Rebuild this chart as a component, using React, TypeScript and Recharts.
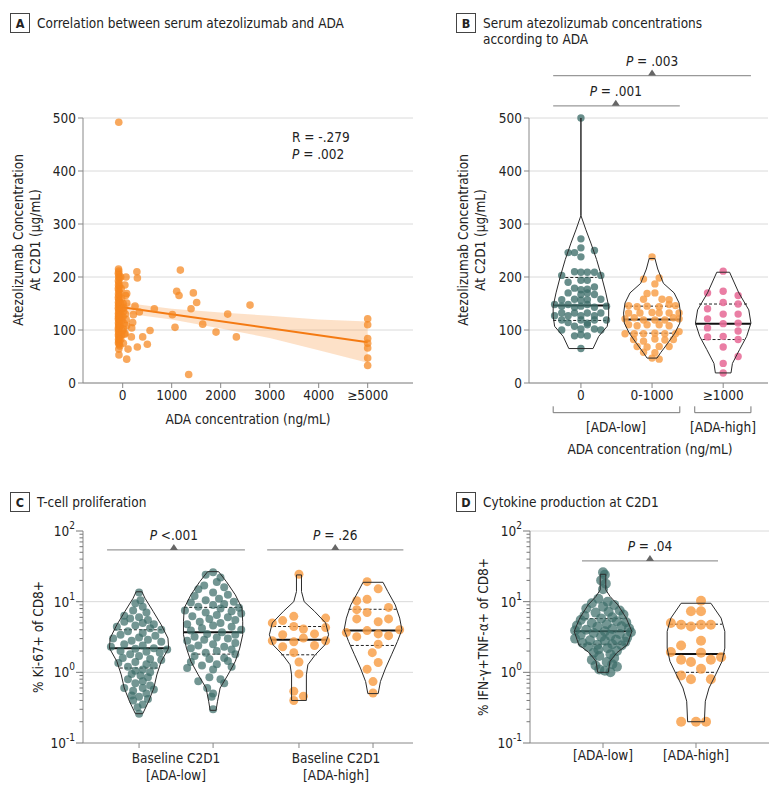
import React from 'react';
import {
  ComposedChart,
  Scatter,
  Line,
  Area,
  XAxis,
  YAxis,
  CartesianGrid,
  ReferenceLine,
  ReferenceDot,
} from 'recharts';

type Pt = [number, number];

const FONT = "'Liberation Sans Narrow', 'DejaVu Sans Condensed', sans-serif";
const TEAL = '#3d6e6a';
const ORANGE = '#f89d45';
const PINK = '#e8709a';
const A_ORANGE = '#f5871f';
const AXIS = '#888';
const GRID = '#dadada';
const FS = 13.5;

// ---------- Panel A: scatter + fit ----------
// [ADA ng/mL, atezolizumab ug/mL]
const aZeroCluster: Pt[] = [
  [-80, 492], [-85, 215], [-80, 211], [-88, 207], [-75, 204], [-82, 200], [-70, 197], [-86, 193],
  [-78, 189], [-84, 185], [-72, 182], [-88, 178], [-80, 175], [-68, 171], [-85, 168], [-76, 165],
  [-88, 161], [-80, 158], [-70, 155], [-86, 152], [-78, 149], [-84, 146], [-66, 144], [-88, 141],
  [-74, 139], [-82, 136], [-60, 134], [-86, 131], [-76, 129], [-84, 126], [-70, 124], [-88, 121],
  [-80, 119], [-64, 116], [-86, 113], [-76, 111], [-82, 108], [-70, 105], [-88, 103], [-78, 100],
  [-84, 97], [-72, 94], [-86, 91], [-80, 88], [-68, 85], [-84, 82], [-78, 79], [-86, 76],
  [-74, 73], [-80, 64], [-76, 53], [-40, 200], [-30, 178], [-20, 160], [-45, 150], [-10, 140],
  [-35, 128], [-15, 118], [-50, 108], [-5, 98], [-25, 90], [-40, 82], [10, 150], [20, 135],
  [5, 125], [30, 112], [15, 102], [40, 92], [25, 142], [55, 130], [60, 165], [45, 185],
  [70, 120], [80, 108], [-60, 70],
];
const aPositive: Pt[] = [
  [290, 210], [300, 198], [1177, 213], [1102, 173], [1150, 165], [1442, 170], [1510, 152],
  [1395, 140], [646, 140], [1014, 129], [1068, 105], [1633, 111], [2143, 130], [1905, 96],
  [2320, 87], [2599, 147], [1347, 16], [558, 99], [408, 87], [503, 73], [299, 68], [177, 87],
  [109, 64], [82, 45], [68, 200], [82, 169], [82, 151], [218, 129], [204, 114], [184, 104],
  [252, 145], [340, 134], [48, 94], [14, 75],
];
const aHighTiter = [121, 110, 84, 75, 66, 47, 33]; // plotted at >=5000
const aFitAda = [-80, 5000];
const aFitConc = [144, 77];
const aBandAda = [-80, 1000, 2000, 3000, 4000, 5000];
const aBandLow = [133, 120, 103, 85, 62, 38];
const aBandHigh = [153, 140, 133, 127, 120, 116];
const aXTicks = [0, 1000, 2000, 3000, 4000, 5000];
const concTicks = [0, 100, 200, 300, 400, 500];

// ---------- Panel B: violins by ADA ----------
const bCats = ['0', '0-1000', '≥1000'];
// [offset from category, value]
const bDots0: Pt[] = [
  [0, 500], [0, 272], [-0.18, 246], [-0.09, 246], [0, 255], [0.19, 250], [0, 238],
  [-0.27, 203], [-0.09, 210], [0, 209], [0.09, 209], [0.19, 209], [0.28, 203],
  [0, 194], [-0.18, 190], [0.09, 194], [-0.09, 179], [0, 176], [0.09, 177], [0.19, 181],
  [-0.18, 170], [0, 167], [0.09, 170], [0.19, 167], [-0.27, 157], [-0.09, 158], [0, 156],
  [0.09, 157], [0.28, 158], [-0.37, 148], [-0.27, 145], [-0.18, 148], [-0.09, 143], [0, 145],
  [0.09, 148], [0.19, 143], [0.36, 145], [-0.37, 127], [-0.27, 132], [-0.18, 127], [-0.09, 132],
  [0, 127], [0.09, 132], [0.19, 127], [0.28, 132], [-0.27, 119], [-0.18, 114], [0, 119],
  [0.09, 113], [0.19, 119], [0.36, 119], [-0.27, 100], [-0.09, 107], [0, 102], [0.09, 110],
  [0.19, 102], [0.28, 100], [-0.09, 89], [0, 91], [0.09, 89], [0, 65],
];
const bDots1: Pt[] = [
  [0, 238], [-0.12, 196], [0.1, 198], [0.04, 187], [-0.07, 169], [0.04, 170],
  [-0.12, 158], [0.14, 158], [0.24, 157], [-0.33, 146], [-0.21, 144], [-0.07, 145],
  [0.1, 144], [0.24, 148], [0.33, 146], [-0.33, 132], [-0.17, 132], [0, 133], [0.1, 132],
  [0.24, 132], [0.38, 132], [-0.38, 121], [-0.25, 123], [-0.12, 119], [0.04, 119], [0.18, 119],
  [0.3, 123], [0.38, 121], [-0.33, 110], [-0.21, 108], [-0.07, 110], [0.1, 110], [0.24, 108],
  [-0.38, 93], [-0.25, 93], [-0.12, 93], [0.04, 94], [0.18, 93], [0.33, 93], [0.38, 97],
  [-0.26, 82], [-0.12, 79], [0.04, 83], [0.18, 81], [0.3, 82], [-0.21, 69], [-0.07, 68],
  [0.1, 69], [0.24, 69], [-0.12, 58], [0.04, 57], [0, 47], [0.1, 45],
];
const bDots2: Pt[] = [
  [0, 211], [-0.22, 170], [0, 173], [0.21, 165], [-0.22, 140], [0, 152], [0.21, 149],
  [-0.22, 121], [0, 130], [0.21, 130], [-0.22, 104], [0, 112], [0.21, 113], [-0.22, 87],
  [0, 88], [0.21, 98], [0.21, 82], [0, 68], [0.21, 50], [0, 37], [0, 19],
];
// violin outline: [value, half width]
const bShape0: Pt[] = [
  [65, 0.17], [88, 0.25], [107, 0.37], [126, 0.39], [145, 0.39], [170, 0.35], [201, 0.29],
  [233, 0.22], [264, 0.14], [289, 0.07], [316, 0], [500, 0],
];
const bShape1: Pt[] = [
  [47, 0.07], [57, 0.12], [75, 0.22], [94, 0.32], [113, 0.39], [132, 0.4], [151, 0.38],
  [170, 0.31], [188, 0.16], [215, 0.08], [235, 0.04],
];
const bShape2: Pt[] = [
  [19, 0.11], [37, 0.13], [63, 0.23], [88, 0.33], [113, 0.39], [138, 0.36], [170, 0.22],
  [209, 0.09],
];
// [median, upper quartile, lower quartile] as [value, half width]
const bStats0: Pt[] = [[146, 0.38], [199, 0.22], [118, 0.39]];
const bStats1: Pt[] = [[120, 0.4], [145, 0.38], [94, 0.32]];
const bStats2: Pt[] = [[112, 0.39], [149, 0.34], [82, 0.29]];

// ---------- Panel C: Ki-67 ----------
const cCenters = [1, 2, 3.16, 4.16];
const cDots0: Pt[] = [
  [0, 13.5], [0.02, 10.5], [-0.05, 9.5], [0.05, 8.5], [-0.08, 7.5], [0.1, 7], [-0.2, 6.3],
  [0, 6], [-0.12, 5.8], [0.12, 5.5], [-0.2, 5.2], [0.05, 5], [0.2, 4.8], [-0.05, 4.6],
  [-0.3, 4.4], [0.15, 4.2], [0.3, 4.0], [-0.15, 3.8], [0.05, 3.6], [-0.25, 3.4], [0.22, 3.3],
  [0, 3.1], [-0.35, 3.0], [0.12, 2.9], [-0.1, 2.8], [0.3, 2.7], [-0.2, 2.5], [0.05, 2.4],
  [-0.38, 2.3], [0.2, 2.2], [-0.05, 2.15], [0.38, 2.1], [-0.25, 2.0], [0.1, 1.95], [0.28, 1.9],
  [-0.12, 1.8], [0, 1.7], [-0.22, 1.6], [0.15, 1.55], [0.3, 1.5], [-0.05, 1.4], [-0.28, 1.35],
  [0.1, 1.3], [0.2, 1.25], [-0.15, 1.2], [0.05, 1.1], [-0.05, 1.05], [0.15, 1.0], [-0.1, 0.95],
  [0.02, 0.9], [0.12, 0.85], [-0.15, 0.8], [0.05, 0.75], [-0.05, 0.7], [0.15, 0.65],
  [-0.2, 0.6], [0.05, 0.6], [0.2, 0.57], [-0.08, 0.55], [0.1, 0.5], [-0.1, 0.47], [0, 0.45],
  [0.12, 0.42], [-0.08, 0.4], [0.05, 0.35], [-0.02, 0.32], [0, 0.26],
];
const cDots1: Pt[] = [
  [0, 26], [-0.1, 24], [0.1, 22], [0.05, 19], [-0.12, 17], [0.15, 16], [-0.2, 15], [0, 13.5],
  [0.2, 12.5], [-0.25, 12], [0.08, 11], [-0.1, 10.5], [0.28, 10], [-0.3, 9.7], [0.15, 9.3],
  [0, 9], [-0.2, 8.5], [0.35, 8.2], [0.1, 8], [-0.38, 7.5], [0.25, 7.3], [-0.1, 7], [0.38, 6.8],
  [0.05, 6.5], [-0.28, 6.2], [0.2, 6], [-0.05, 5.7], [0.3, 5.5], [-0.18, 5.2], [0.1, 5],
  [-0.35, 4.8], [0, 4.6], [0.25, 4.4], [-0.15, 4.2], [0.38, 4], [-0.3, 3.9], [0.12, 3.7],
  [-0.08, 3.5], [0.3, 3.4], [-0.25, 3.2], [0.05, 3.1], [0.2, 3.0], [-0.12, 2.9], [-0.35, 2.8],
  [0.3, 2.6], [0, 2.5], [-0.2, 2.4], [0.15, 2.3], [-0.3, 2.2], [0.25, 2.1], [0.05, 2.0],
  [-0.1, 1.9], [0.3, 1.8], [-0.25, 1.7], [0.15, 1.6], [-0.05, 1.55], [0.2, 1.45], [-0.3, 1.4],
  [0.05, 1.3], [-0.15, 1.25], [0.25, 1.2], [-0.35, 1.15], [0, 1.1], [-0.05, 0.85], [0.1, 0.8],
  [-0.2, 0.75], [0.15, 0.7], [-0.08, 0.6], [0, 0.5], [-0.02, 0.45], [0, 0.3],
];
const cDots2: Pt[] = [
  [0, 24.4], [-0.36, 5.0], [-0.22, 5.4], [-0.07, 6.2], [0.36, 5.85], [-0.07, 4.45], [0.06, 4.1],
  [0.36, 4.3], [-0.36, 2.8], [-0.22, 3.4], [-0.07, 2.7], [0.06, 3.05], [0.21, 3.5], [0.36, 2.8],
  [-0.22, 2.3], [0.21, 2.4], [-0.07, 1.9], [0, 1.4], [0, 0.95], [-0.07, 0.54], [-0.07, 0.4],
  [0.06, 0.46],
];
const cDots3: Pt[] = [
  [-0.08, 19.2], [0.07, 15.2], [-0.22, 10.3], [-0.08, 10.8], [-0.22, 7.7], [-0.08, 7.0],
  [0.21, 8.3], [-0.22, 5.7], [0.07, 5.2], [0.21, 5.7], [-0.36, 3.65], [-0.22, 3.2], [-0.08, 3.9],
  [0.07, 3.5], [0.21, 3.3], [0.36, 4.0], [0.07, 2.5], [-0.01, 1.9], [0.07, 1.38], [-0.08, 1.11],
  [0, 0.74], [0, 0.51],
];
const cShape0: Pt[] = [
  [0.26, 0.05], [0.39, 0.13], [0.6, 0.2], [0.92, 0.24], [1.43, 0.3], [2.2, 0.4], [3.05, 0.39],
  [4.7, 0.3], [7.3, 0.19], [11.2, 0.08], [13.8, 0.04],
];
const cShape1: Pt[] = [
  [0.29, 0.04], [0.39, 0.06], [0.6, 0.095], [0.92, 0.2], [1.43, 0.3], [2.2, 0.36], [3.4, 0.4],
  [5.2, 0.4], [8.1, 0.39], [12.5, 0.3], [19.2, 0.18], [26.6, 0.074],
];
const cShape2: Pt[] = [
  [0.4, 0.1], [0.92, 0.1], [1.28, 0.12], [1.77, 0.22], [2.45, 0.35], [3.4, 0.4], [5.0, 0.36],
  [7.3, 0.21], [10, 0.07], [13.9, 0.034], [23.9, 0.034],
];
const cShape3: Pt[] = [
  [0.5, 0.07], [0.74, 0.1], [1.15, 0.17], [1.77, 0.25], [2.74, 0.33], [4.0, 0.39], [5.85, 0.36],
  [9.0, 0.3], [13.9, 0.2], [18.8, 0.135],
];
const cStats0: Pt[] = [[2.2, 0.4], [4.0, 0.34], [1.15, 0.26]];
const cStats1: Pt[] = [[3.7, 0.4], [8.3, 0.39], [1.81, 0.28]];
const cStats2: Pt[] = [[2.9, 0.38], [4.45, 0.35], [1.77, 0.24]];
const cStats3: Pt[] = [[3.9, 0.39], [7.8, 0.33], [2.4, 0.3]];

// ---------- Panel D: cytokines ----------
const dCats = ['[ADA-low]', '[ADA-high]'];
const dDots0: Pt[] = [
  [0, 26], [0.02, 24], [-0.02, 20], [0.03, 18], [0, 15], [-0.05, 11], [0.05, 10], [-0.12, 9.5],
  [0.12, 9], [0, 8.5], [-0.18, 8], [0.18, 7.5], [0.06, 7.2], [-0.08, 7], [0.22, 6.6],
  [-0.2, 6.3], [0.1, 6], [-0.02, 5.8], [-0.24, 5.5], [0.15, 5.3], [0.25, 5.1], [-0.12, 5],
  [0.04, 4.8], [-0.28, 4.6], [0.2, 4.5], [-0.06, 4.4], [0.28, 4.2], [0.1, 4.1], [-0.18, 4.0],
  [-0.3, 3.9], [0.02, 3.8], [0.3, 3.7], [-0.1, 3.6], [0.18, 3.5], [-0.24, 3.4], [0.08, 3.3],
  [-0.02, 3.2], [0.26, 3.1], [-0.3, 3.0], [0.14, 2.9], [-0.14, 2.85], [0.02, 2.8], [0.24, 2.7],
  [-0.22, 2.6], [0.1, 2.5], [-0.06, 2.45], [0.2, 2.4], [-0.16, 2.3], [0.05, 2.2], [-0.05, 2.1],
  [0.15, 2.0], [-0.1, 1.9], [0.08, 1.8], [-0.04, 1.7], [0.12, 1.6], [-0.12, 1.5], [0.04, 1.4],
  [0.1, 1.3], [-0.08, 1.25], [0.15, 1.2], [-0.04, 1.1], [0.02, 1.05], [0.08, 1.0],
];
const dDots1: Pt[] = [
  [0.054, 10.3], [-0.054, 7.3], [0.054, 7.3], [-0.27, 5.0], [-0.16, 4.7], [-0.054, 4.45],
  [0.054, 4.7], [0.16, 4.7], [0.054, 2.8], [-0.16, 2.4], [-0.27, 1.94], [-0.16, 1.51],
  [-0.054, 1.4], [0.054, 1.9], [0.16, 1.51], [0.27, 1.63], [0.054, 1.12], [-0.054, 0.8],
  [0.16, 0.8], [-0.16, 0.9], [-0.16, 0.2], [0, 0.2], [0.108, 0.2],
];
const dShape0: Pt[] = [
  [1.0, 0.057], [1.43, 0.075], [1.9, 0.15], [2.45, 0.26], [3.8, 0.31], [5.85, 0.25], [9.0, 0.16],
  [11.8, 0.077], [14.7, 0.03], [24.4, 0.03],
];
const dShape1: Pt[] = [
  [0.2, 0.09], [0.39, 0.1], [0.6, 0.14], [0.92, 0.21], [1.43, 0.28], [2.2, 0.31], [3.8, 0.31],
  [5.85, 0.27], [9.5, 0.16],
];
const dStats0: Pt[] = [[3.8, 0.31], [5.75, 0.25], [2.5, 0.265]];
const dStats1: Pt[] = [[1.81, 0.31], [4.8, 0.28], [1.0, 0.215]];

const logTicks = [
  0.1, 0.2, 0.3, 0.4, 0.5, 0.6, 0.7, 0.8, 0.9, 1, 2, 3, 4, 5, 6, 7, 8, 9, 10, 20, 30, 40, 50,
  60, 70, 80, 90, 100,
];

// ---------- helpers ----------
const toDots = (center: number, pts: Pt[]) => pts.map(([off, v]) => ({ x: center + off, y: v }));

const toOutline = (center: number, profile: Pt[]) => {
  const left = profile.map(([v, h]) => ({ x: center - h, y: v }));
  const right = [...profile].reverse().map(([v, h]) => ({ x: center + h, y: v }));
  return [...left, ...right, left[0]];
};

const dotShape = (r: number, fill: string, opacity: number) => (p: any) =>
  <circle cx={p.cx} cy={p.cy} r={r} fill={fill} fillOpacity={opacity} />;

const noShape = () => <g />;

function violin(id: string, center: number, shape: Pt[], dots: Pt[], stats: Pt[], color: string, r: number, op: number) {
  const [med, hi, lo] = stats;
  return [
    <Scatter key={id + 'd'} data={toDots(center, dots)} shape={dotShape(r, color, op)} isAnimationActive={false} />,
    <Scatter
      key={id + 'o'}
      data={toOutline(center, shape)}
      shape={noShape}
      line={{ stroke: '#2b2b2b', strokeWidth: 1 }}
      isAnimationActive={false}
    />,
    <ReferenceLine key={id + 'hi'} segment={[{ x: center - hi[1], y: hi[0] }, { x: center + hi[1], y: hi[0] }]} stroke="#222" strokeDasharray="3 2" />,
    <ReferenceLine key={id + 'lo'} segment={[{ x: center - lo[1], y: lo[0] }, { x: center + lo[1], y: lo[0] }]} stroke="#222" strokeDasharray="3 2" />,
    <ReferenceLine key={id + 'm'} segment={[{ x: center - med[1], y: med[0] }, { x: center + med[1], y: med[0] }]} stroke="#111" strokeWidth={2} />,
  ];
}

const SigMark = ({ cx, cy, text }: { cx: number; cy: number; text: string }) => (
  <g>
    <polygon points={`${cx - 4},${cy} ${cx + 4},${cy} ${cx},${cy - 6}`} fill="#666" />
    <text x={cx} y={cy - 15} textAnchor="middle" dominantBaseline="central" fontSize={FS} fill="#222">
      <tspan fontStyle="italic">P</tspan>
      {text}
    </text>
  </g>
);

function sigBracket(id: string, x1: number, x2: number, apex: number, y: number, text: string) {
  return [
    <ReferenceLine key={id + 'l'} segment={[{ x: x1, y }, { x: x2, y }]} stroke="#999" strokeWidth={1.2} ifOverflow="visible" />,
    <ReferenceDot
      key={id + 't'}
      x={apex}
      y={y}
      ifOverflow="visible"
      shape={(p: any) => <SigMark cx={p.cx} cy={p.cy} text={text} />}
    />,
  ];
}

const LogTick = (props: any) => {
  const { x, y, payload } = props;
  const e = Math.log10(payload.value);
  const major = Math.abs(e - Math.round(e)) < 1e-6;
  return (
    <g>
      <line x1={x - (major ? 7 : 3.5)} x2={x} y1={y} y2={y} stroke="#777" />
      {major && (
        <text x={x - 8} y={y + 5} textAnchor="end" fontSize={FS} fill="#222">
          10<tspan dy={-7} fontSize={10}>{Math.round(e)}</tspan>
        </text>
      )}
    </g>
  );
};

const tickStyle = { fill: '#222', fontSize: FS };

// ---------- panels ----------
const PanelA = () => {
  const band = aBandAda.map((x, i) => ({ x, band: [aBandLow[i], aBandHigh[i]] }));
  const fit = aFitAda.map((x, i) => ({ x, y: aFitConc[i] }));
  const pts = [
    ...aZeroCluster.map(([x, y]) => ({ x, y })),
    ...aPositive.map(([x, y]) => ({ x, y })),
    ...aHighTiter.map((y) => ({ x: 5000, y })),
  ];
  return (
    <ComposedChart width={420} height={440} margin={{ top: 118, right: 7, bottom: 17, left: 43 }}>
      <CartesianGrid vertical={false} stroke={GRID} />
      <XAxis
        type="number"
        dataKey="x"
        domain={[-810, 5925]}
        allowDataOverflow
        ticks={aXTicks}
        interval={0}
        tickFormatter={(v: number) => (v === 5000 ? '≥5000' : String(v))}
        stroke={AXIS}
        tick={tickStyle}
        tickSize={5}
        height={40}
      />
      <YAxis
        type="number"
        dataKey="y"
        domain={[0, 500]}
        ticks={concTicks}
        interval={0}
        stroke={AXIS}
        tick={tickStyle}
        tickSize={5}
        width={40}
      />
      <Area data={band} dataKey="band" stroke="none" fill="#f9a860" fillOpacity={0.35} isAnimationActive={false} />
      <Scatter data={pts} shape={dotShape(3.8, A_ORANGE, 0.72)} isAnimationActive={false} />
      <Line data={fit} dataKey="y" stroke="#f47a12" strokeWidth={2} dot={false} isAnimationActive={false} />
    </ComposedChart>
  );
};

const PanelB = () => (
  <ComposedChart width={380} height={440} margin={{ top: 118, right: 12, bottom: 17, left: 89 }}>
    <CartesianGrid vertical={false} stroke={GRID} />
    <XAxis
      type="number"
      dataKey="x"
      domain={[-0.73, 2.63]}
      allowDataOverflow
      ticks={[0, 1, 2]}
      interval={0}
      tickFormatter={(v: number) => bCats[v]}
      stroke={AXIS}
      tick={tickStyle}
      tickSize={5}
      height={40}
    />
    <YAxis
      type="number"
      dataKey="y"
      domain={[0, 500]}
      ticks={concTicks}
      interval={0}
      stroke={AXIS}
      tick={tickStyle}
      tickSize={5}
      width={40}
    />
    {violin('b0', 0, bShape0, bDots0, bStats0, TEAL, 3.7, 0.78)}
    {violin('b1', 1, bShape1, bDots1, bStats1, ORANGE, 3.7, 0.82)}
    {violin('b2', 2, bShape2, bDots2, bStats2, PINK, 3.7, 0.9)}
    {sigBracket('s1', -0.39, 1.39, 0.49, 523, ' = .001')}
    {sigBracket('s2', -0.39, 2.39, 1.0, 580, ' = .003')}
    <ReferenceLine segment={[{ x: -0.39, y: -56 }, { x: 1.39, y: -56 }]} stroke="#777" ifOverflow="visible" />
    <ReferenceLine segment={[{ x: -0.39, y: -56 }, { x: -0.39, y: -44 }]} stroke="#777" ifOverflow="visible" />
    <ReferenceLine segment={[{ x: 1.39, y: -56 }, { x: 1.39, y: -44 }]} stroke="#777" ifOverflow="visible" />
    <ReferenceLine segment={[{ x: 1.6, y: -56 }, { x: 2.39, y: -56 }]} stroke="#777" ifOverflow="visible" />
    <ReferenceLine segment={[{ x: 1.6, y: -56 }, { x: 1.6, y: -44 }]} stroke="#777" ifOverflow="visible" />
    <ReferenceLine segment={[{ x: 2.39, y: -56 }, { x: 2.39, y: -44 }]} stroke="#777" ifOverflow="visible" />
  </ComposedChart>
);

const LogY = () => (
  <YAxis
    type="number"
    dataKey="y"
    scale="log"
    domain={[0.1, 100]}
    allowDataOverflow
    ticks={logTicks}
    interval={0}
    stroke={AXIS}
    tick={<LogTick />}
    tickSize={0}
    tickMargin={0}
    width={40}
  />
);

const PanelC = () => (
  <ComposedChart width={420} height={393} margin={{ top: 131, right: 7, bottom: 20, left: 43 }}>
    <ReferenceLine y={1} stroke={GRID} />
    <ReferenceLine y={10} stroke={GRID} />
    <XAxis
      type="number"
      dataKey="x"
      domain={[0.243, 4.7]}
      allowDataOverflow
      ticks={cCenters}
      interval={0}
      tickFormatter={() => ''}
      stroke={AXIS}
      tickSize={5}
      height={30}
    />
    {LogY()}
    {violin('c0', cCenters[0], cShape0, cDots0, cStats0, TEAL, 4, 0.72)}
    {violin('c1', cCenters[1], cShape1, cDots1, cStats1, TEAL, 4, 0.72)}
    {violin('c2', cCenters[2], cShape2, cDots2, cStats2, ORANGE, 4.5, 0.82)}
    {violin('c3', cCenters[3], cShape3, cDots3, cStats3, ORANGE, 4.5, 0.82)}
    {sigBracket('c1s', 0.568, 2.43, 1.47, 54, ' <.001')}
    {sigBracket('c2s', 2.73, 4.57, 3.65, 54, ' = .26')}
  </ComposedChart>
);

const PanelD = () => (
  <ComposedChart width={380} height={393} margin={{ top: 131, right: 11, bottom: 20, left: 90 }}>
    <ReferenceLine y={1} stroke={GRID} />
    <ReferenceLine y={10} stroke={GRID} />
    <ReferenceLine y={100} stroke={GRID} />
    <XAxis
      type="number"
      dataKey="x"
      domain={[0.215, 2.785]}
      allowDataOverflow
      ticks={[1, 2]}
      interval={0}
      tickFormatter={(v: number) => dCats[v - 1]}
      stroke={AXIS}
      tick={tickStyle}
      tickSize={5}
      height={30}
    />
    {LogY()}
    {violin('d0', 1, dShape0, dDots0, dStats0, TEAL, 5, 0.72)}
    {violin('d1', 2, dShape1, dDots1, dStats1, ORANGE, 5, 0.82)}
    {sigBracket('ds', 0.774, 2.237, 1.505, 37.7, ' = .04')}
  </ComposedChart>
);

// ---------- static text ----------
const Title = ({ x, y, letter, lines }: { x: number; y: number; letter: string; lines: string[] }) => (
  <g>
    <rect x={x + 0.5} y={y + 0.5} width={19} height={19} fill="#fff" stroke="#444" />
    <text x={x + 10} y={y + 10.5} textAnchor="middle" dominantBaseline="central" fontSize={12.5} fontWeight="bold" fill="#222">
      {letter}
    </text>
    {lines.map((l, i) => (
      <text key={i} x={x + 27} y={y + 10 + i * 16} dominantBaseline="central" fontSize={FS} fill="#222">
        {l}
      </text>
    ))}
  </g>
);

const VText = ({ x, y, children }: { x: number; y: number; children: React.ReactNode }) => (
  <text x={x} y={y} transform={`rotate(-90 ${x} ${y})`} textAnchor="middle" dominantBaseline="central" fontSize={FS} fill="#222">
    {children}
  </text>
);

const HText = ({ x, y, children }: { x: number; y: number; children: React.ReactNode }) => (
  <text x={x} y={y} textAnchor="middle" dominantBaseline="central" fontSize={FS} fill="#222">
    {children}
  </text>
);

const Overlay = () => (
  <svg width={780} height={793} style={{ position: 'absolute', left: 0, top: 0, pointerEvents: 'none' }}>
    <Title x={10} y={13} letter="A" lines={['Correlation between serum atezolizumab and ADA']} />
    <Title x={456} y={13} letter="B" lines={['Serum atezolizumab concentrations', 'according to ADA']} />
    <Title x={10} y={492} letter="C" lines={['T-cell proliferation']} />
    <Title x={456} y={492} letter="D" lines={['Cytokine production at C2D1']} />

    <VText x={18} y={240}>Atezolizumab Concentration</VText>
    <VText x={35} y={240}>At C2D1 (µg/mL)</VText>
    <VText x={463} y={240}>Atezolizumab Concentration</VText>
    <VText x={480} y={240}>At C2D1 (µg/mL)</VText>
    <VText x={38} y={637}>% Ki-67+ of CD8+</VText>
    <VText x={483} y={637}>% IFN-γ+TNF-α+ of CD8+</VText>

    <HText x={248} y={419}>ADA concentration (ng/mL)</HText>
    <HText x={616} y={427}>[ADA-low]</HText>
    <HText x={723} y={427}>[ADA-high]</HText>
    <HText x={650} y={449}>ADA concentration (ng/mL)</HText>
    <HText x={176} y={758}>Baseline C2D1</HText>
    <HText x={176} y={775}>[ADA-low]</HText>
    <HText x={336} y={758}>Baseline C2D1</HText>
    <HText x={336} y={775}>[ADA-high]</HText>

    <text x={292} y={137} dominantBaseline="central" fontSize={FS} fill="#222">R = -.279</text>
    <text x={292} y={154} dominantBaseline="central" fontSize={FS} fill="#222">
      <tspan fontStyle="italic">P</tspan> = .002
    </text>
  </svg>
);

export default function App() {
  const box = (left: number, top: number): React.CSSProperties => ({ position: 'absolute', left, top });
  return (
    <div style={{ position: 'absolute', left: 0, top: 0, width: 780, height: 793, background: '#fff', fontFamily: FONT }}>
      <div style={box(0, 0)}><PanelA /></div>
      <div style={box(400, 0)}><PanelB /></div>
      <div style={box(0, 400)}><PanelC /></div>
      <div style={box(400, 400)}><PanelD /></div>
      <Overlay />
    </div>
  );
}
